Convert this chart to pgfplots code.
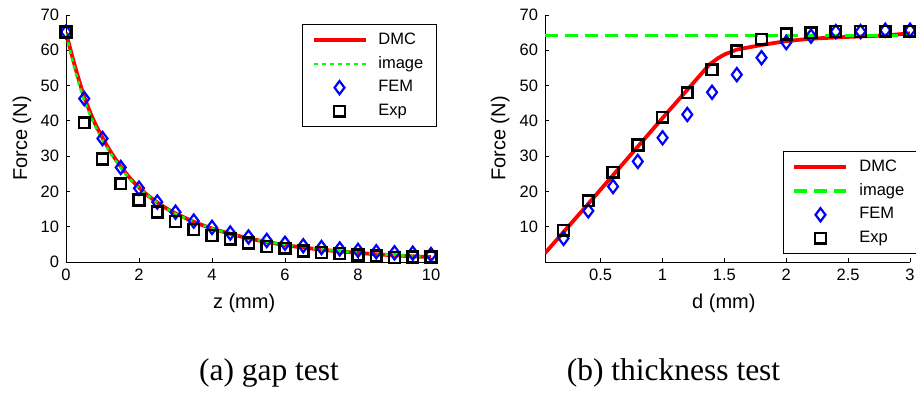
\documentclass[border=0pt]{standalone}
\usepackage{fontspec}
\setmainfont{Liberation Serif}
\setsansfont{Liberation Sans}
\usepackage{pgfplots}
\pgfplotsset{compat=1.18}
\definecolor{mred}{RGB}{255,0,0}
\definecolor{mgreen}{RGB}{0,255,0}
\definecolor{mblue}{RGB}{0,0,255}
\pgfplotsset{
  mystyle/.style={
    scale only axis, width=182.5pt, height=123.5pt,
    axis lines*=left, axis line style={-, line width=0.5pt, black},
    tick align=inside, major tick length=2pt,
    tick style={black, line width=0.5pt},
    /pgf/number format/assume math mode=true,
    tick label style={font=\fontsize{8.25}{9}\sffamily},
    label style={font=\fontsize{10}{12}\sffamily},
    ylabel={Force (N)},
    legend style={font=\fontsize{8.25}{9}\sffamily, draw=black, line width=0.6pt,
      anchor=north west, cells={anchor=west}, inner xsep=4.5pt, inner ysep=2pt,
      column sep=3.5pt, row sep=0.6pt},
  },
  linelegend/.style={legend image code/.code={\draw[##1] (0pt,0pt) -- (26pt,0pt);}},
  marklegend/.style={legend image code/.code={\draw[mark repeat=1,mark phase=1,##1] plot coordinates {(13pt,0pt)};}},
  dmc/.style={mred, line width=1.9pt, no marks, linelegend},
  fem/.style={only marks, mark=diamond, mark size=3.3pt, mark options={mblue, line width=1.1pt, fill=none}, marklegend},
  expm/.style={only marks, mark=square, mark size=2.7pt, mark options={black, line width=1.3pt, fill=none}, marklegend},
}
\begin{document}
\begin{tikzpicture}
\useasboundingbox (0pt,0pt) rectangle (458pt,196pt);
% ---------- (a) gap test ----------
\begin{axis}[mystyle, at={(33pt,65pt)}, anchor=south west,
  xmin=0, xmax=10, ymin=0, ymax=70,
  xtick={0,2,4,6,8,10}, ytick={0,10,20,30,40,50,60,70},
  xlabel={z (mm)},
  xlabel style={at={(axis description cs:0.488,-0.166)}, anchor=center},
  ylabel style={at={(axis description cs:-0.1205,0.5)}, anchor=center},
  legend style={at={(axis description cs:0.6466,0.9636)}}]
\addplot[dmc, smooth] coordinates {
(0,65) (0.25,55.3) (0.5,46.8) (0.75,40.3) (1,35.2) (1.25,30.8) (1.5,27.1) (1.75,23.8)
(2,21.1) (2.25,18.8) (2.5,16.9) (2.75,15.2) (3,13.8) (3.5,11.4) (4,9.5) (4.5,8.0)
(5,6.7) (5.5,5.7) (6,4.8) (6.5,4.1) (7,3.5) (7.5,3.0) (8,2.6) (8.5,2.2) (9,1.9) (9.5,1.6) (10,1.4)};
\addlegendentry{DMC}
\addplot[mgreen, line width=1.3pt, dash pattern=on 2pt off 2pt, no marks, smooth, linelegend] coordinates {
(0,64.5) (0.25,54.2) (0.5,45.8) (0.75,39.5) (1,34.6) (1.25,30.3) (1.5,26.7) (1.75,23.5)
(2,20.9) (2.5,16.8) (3,13.7) (3.5,11.4) (4,9.5) (4.5,8.0) (5,6.8) (5.5,5.8)
(6,4.9) (6.5,4.2) (7,3.6) (7.5,3.1) (8,2.7) (8.5,2.3) (9,2.0) (9.5,1.7) (10,1.5)};
\addlegendentry{image}
\addplot[fem] coordinates {
(0,65.2) (0.5,46.3) (1,35.0) (1.5,26.8) (2,20.9) (2.5,17.0) (3,14.1) (3.5,11.6)
(4,9.8) (4.5,8.2) (5,7.1) (5.5,6.1) (6,5.3) (6.5,4.6) (7,4.1) (7.5,3.7)
(8,3.3) (8.5,2.9) (9,2.6) (9.5,2.5) (10,2.1)};
\addlegendentry{FEM}
\addplot[expm] coordinates {
(0,65.2) (0.5,39.5) (1,29.2) (1.5,22.2) (2,17.6) (2.5,14.2) (3,11.5) (3.5,9.2)
(4,7.5) (4.5,6.5) (5,5.4) (5.5,4.4) (6,3.9) (6.5,3.1) (7,2.7) (7.5,2.4)
(8,2.0) (8.5,1.8) (9,1.3) (9.5,1.4) (10,1.4)};
\addlegendentry{Exp}
\end{axis}
% ---------- (b) thickness test ----------
\begin{axis}[mystyle, at={(272.5pt,65pt)}, anchor=south west,
  xmin=0.05, xmax=3, ymin=0, ymax=70,
  xtick={0.5,1,1.5,2,2.5,3}, ytick={10,20,30,40,50,60,70},
  xlabel={d (mm)},
  xlabel style={at={(axis description cs:0.49,-0.166)}, anchor=center},
  ylabel style={at={(axis description cs:-0.123,0.5)}, anchor=center},
  legend style={at={(axis description cs:0.652,0.449)}}]
\addplot[dmc] coordinates {
(0.05,2.5) (0.4,16.5) (1.0,40.8) (1.38,56) (1.45,57.8) (1.5,58.8) (1.6,60.2) (1.8,61.5)
(2.0,62.6) (2.2,63.3) (2.5,63.8) (2.8,64.2) (3.0,64.8)};
\addlegendentry{DMC}
\addplot[mgreen, line width=1.6pt, dash pattern=on 6.5pt off 3.5pt, no marks, linelegend] coordinates {
(0.05,64.2) (3.0,64.2)};
\addlegendentry{image}
\addplot[fem] coordinates {
(0.2,6.7) (0.4,14.5) (0.6,21.4) (0.8,28.5) (1.0,35.2) (1.2,41.8) (1.4,48.1) (1.6,53.1)
(1.8,57.9) (2.0,62.2) (2.2,64.0) (2.4,65.3) (2.6,65.3) (2.8,65.7) (3.0,65.7)};
\addlegendentry{FEM}
\addplot[expm] coordinates {
(0.2,9.0) (0.4,17.4) (0.6,25.4) (0.8,33.2) (1.0,41.0) (1.2,48.0) (1.4,54.5) (1.6,59.8)
(1.8,63.1) (2.0,64.6) (2.2,65.0) (2.4,65.3) (2.6,65.3) (2.8,65.4) (3.0,65.4)};
\addlegendentry{Exp}
\end{axis}
\node[anchor=base, font=\fontsize{15.75}{18}\selectfont] at (134.5pt,6pt) {(a) gap test};
\node[anchor=base, font=\fontsize{15.75}{18}\selectfont] at (336.75pt,6pt) {(b) thickness test};
\end{tikzpicture}
\end{document}
